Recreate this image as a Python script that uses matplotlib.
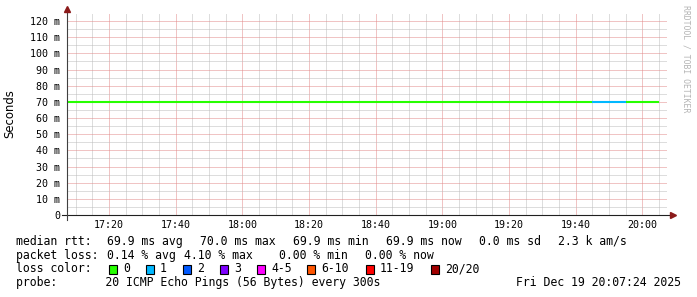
# -*- coding: utf-8 -*
# smokeping style graph, 3 hours of median rtt colored by packet loss

import datetime as dt
import matplotlib
matplotlib.use("Agg")
import matplotlib.pyplot as plt
import matplotlib.dates as mdates
from matplotlib.patches import Rectangle

W, H = 697, 297

t_start = dt.datetime(2025, 12, 19, 17, 7, 24)
t_end = dt.datetime(2025, 12, 19, 20, 7, 24)

# step end times (300 s) and their values
step_ends = [dt.datetime(2025, 12, 19, 17, 10) + dt.timedelta(minutes=5 * i) for i in range(36)]
median_ms = [69.9, 69.9, 69.9, 69.9, 69.9, 69.9, 69.9, 69.9, 69.9, 69.9,
             69.9, 69.9, 69.9, 69.9, 69.9, 69.9, 70.0, 69.9, 69.9, 69.9,
             69.9, 69.9, 69.9, 69.9, 69.9, 69.9, 69.9, 69.9, 69.9, 69.9,
             69.9, 69.9, 69.9, 69.9, 69.9, 69.9]
lost = [0, 0, 0, 0, 0, 0, 0, 0, 0, 0,
        0, 0, 0, 0, 0, 0, 0, 0, 0, 0,
        0, 0, 0, 0, 0, 0, 0, 0, 0, 0,
        0, 0, 1, 1, 0, 0]

y_ticks = [0, 10, 20, 30, 40, 50, 60, 70, 80, 90, 100, 110, 120]
y_tick_labels = ["0", "10 m", "20 m", "30 m", "40 m", "50 m", "60 m", "70 m",
                 "80 m", "90 m", "100 m", "110 m", "120 m"]

loss_labels = ["0", "1", "2", "3", "4-5", "6-10", "11-19", "20/20"]
loss_colors = ["#26ff00", "#00b8ff", "#0059ff", "#7e00ff", "#ff00ff",
               "#ff5500", "#ff0000", "#a10000"]
loss_bins = [0, 1, 2, 3, 5, 10, 19, 20]   # upper bound of each bin

rtt_row = [("median rtt:", 16), ("69.9 ms avg", 107), ("70.0 ms max", 200),
           ("69.9 ms min", 293), ("69.9 ms now", 386), ("0.0 ms sd", 479),
           ("2.3 k am/s", 558)]
loss_row = [("packet loss:", 16), ("0.14 % avg", 107), ("4.10 % max", 184),
            ("0.00 % min", 279), ("0.00 % now", 365)]
probe_text = "probe:       20 ICMP Echo Pings (56 Bytes) every 300s"
date_text = "Fri Dec 19 20:07:24 2025"

MONO = "DejaVu Sans Mono"


def fx(px):
    return px / W


def fy(py):
    return 1 - py / H


def loss_color(n):
    for b, c in zip(loss_bins, loss_colors):
        if n <= b:
            return c
    return loss_colors[-1]


fig = plt.figure(figsize=(W / 100, H / 100), dpi=100)
fig.patch.set_facecolor("white")
ax = fig.add_axes([fx(67), fy(215), 600 / W, 202 / H])
ax.set_xlim(t_start, t_end)
ax.set_ylim(0, 125)

for s in ax.spines.values():
    s.set_visible(False)

# grid
ax.xaxis.set_major_locator(mdates.MinuteLocator(byminute=[0, 20, 40]))
ax.xaxis.set_minor_locator(mdates.MinuteLocator(byminute=range(0, 60, 5)))
ax.xaxis.set_major_formatter(mdates.DateFormatter("%H:%M"))
ax.set_yticks(y_ticks)
ax.set_yticklabels(y_tick_labels)
ax.set_yticks(range(5, 125, 10), minor=True)
ax.grid(which="minor", color="#bdbdbd", linestyle=(0, (1, 1)), linewidth=0.72)
ax.grid(which="major", color="#e28a8a", linestyle=(0, (1, 1)), linewidth=0.72)
ax.set_axisbelow(True)
ax.tick_params(which="both", length=0)
ax.tick_params(axis="y", pad=5)
ax.tick_params(axis="x", pad=3.5)
for lab in ax.get_xticklabels() + ax.get_yticklabels():
    lab.set_fontfamily(MONO)
    lab.set_fontsize(7.2)
    lab.set_color("#000000")

# median line, one step per 300 s
for t, v, n in zip(step_ends, median_ms, lost):
    ax.hlines(v, t - dt.timedelta(minutes=5), t, colors=loss_color(n),
              linewidth=1.5, zorder=3)

# axes with arrows
ax.plot([-5 / 600, 604 / 600], [0, 0], color="#202020", lw=0.8,
        transform=ax.transAxes, clip_on=False, zorder=4)
ax.plot([0, 0], [-5 / 202, 205 / 202], color="#404040", lw=0.8,
        transform=ax.transAxes, clip_on=False, zorder=4)
ax.plot([606 / 600], [0], marker=">", ms=5, color="#8b1a1a",
        transform=ax.transAxes, clip_on=False, zorder=5)
ax.plot([0], [206 / 202], marker="^", ms=5, color="#8b1a1a",
        transform=ax.transAxes, clip_on=False, zorder=5)

fig.text(fx(10), fy(114), "Seconds", rotation=90, ha="center", va="center",
         fontsize=8.4, family="DejaVu Sans")
fig.text(fx(686), fy(59), "RRDTOOL / TOBI OETIKER", rotation=270,
         ha="center", va="center", fontsize=5.9, family=MONO, color="#b4b4b4")

# legend rows
for txt, x in rtt_row:
    fig.text(fx(x), fy(245), txt, fontsize=8.3, family=MONO, va="baseline")
for txt, x in loss_row:
    fig.text(fx(x), fy(258.7), txt, fontsize=8.3, family=MONO, va="baseline")
fig.text(fx(16), fy(272.4), "loss color:", fontsize=8.3, family=MONO, va="baseline")
sq_x = [108.5, 145.5, 182.5, 219.5, 256.5, 306.5, 365.5, 430.5]
for x, lab, c in zip(sq_x, loss_labels, loss_colors):
    fig.patches.append(Rectangle((fx(x), fy(273.5)), 8 / W, 9 / H,
                                 transform=fig.transFigure, facecolor=c,
                                 edgecolor="black", linewidth=0.8))
    fig.text(fx(x + 14.5), fy(272.4), lab, fontsize=8.3, family=MONO, va="baseline")
fig.text(fx(16), fy(286), probe_text, fontsize=8.3, family=MONO, va="baseline")
fig.text(fx(681), fy(286), date_text, fontsize=8.3, family=MONO,
         va="baseline", ha="right")

fig.savefig("out.png", dpi=100)
